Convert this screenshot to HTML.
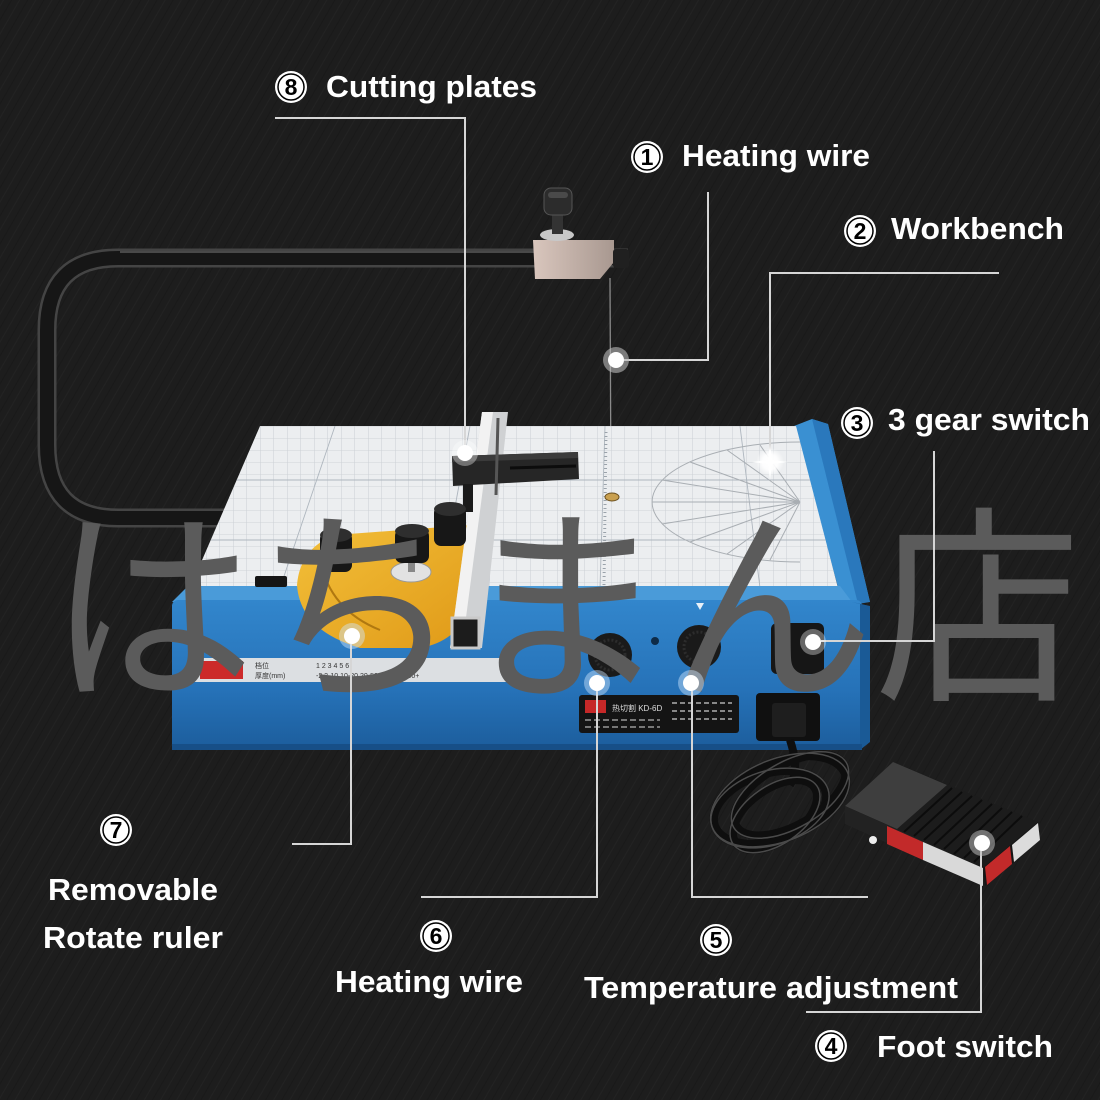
<!DOCTYPE html>
<html><head><meta charset="utf-8"><style>
html,body{margin:0;padding:0;background:#1d1d1d;}
svg{display:block;}
.lbl{font-family:"Liberation Sans",Arial,sans-serif;font-weight:bold;fill:#fff;font-size:31px;}
.num{font-family:"Liberation Sans",Arial,sans-serif;font-weight:bold;fill:#000;font-size:23px;text-anchor:middle;}
.tiny{font-family:"Liberation Sans","Noto Sans CJK SC",sans-serif;font-size:7px;fill:#333;}
.wm{font-family:"Noto Sans CJK JP","Noto Sans CJK SC",sans-serif;}
</style></head><body>
<svg width="1100" height="1100" viewBox="0 0 1100 1100" xmlns="http://www.w3.org/2000/svg">
<defs>
  <pattern id="tex" width="14" height="14" patternUnits="userSpaceOnUse" patternTransform="rotate(-60)">
    <rect width="14" height="14" fill="#1d1d1d"/>
    <line x1="0" y1="3" x2="14" y2="3" stroke="#232323" stroke-width="1"/>
    <line x1="0" y1="10" x2="14" y2="10" stroke="#191919" stroke-width="1"/>
  </pattern>
  <pattern id="grid" width="13.5" height="12" patternUnits="userSpaceOnUse" x="260" y="426">
    <rect width="13.5" height="12" fill="#eceef0"/>
    <line x1="0" y1="0" x2="0" y2="12" stroke="#c2c8ce" stroke-width="0.8"/>
    <line x1="0" y1="0" x2="13.5" y2="0" stroke="#c9ced3" stroke-width="0.8"/>
  </pattern>
  <linearGradient id="blueF" x1="0" y1="0" x2="0" y2="1">
    <stop offset="0" stop-color="#3286cc"/>
    <stop offset="0.6" stop-color="#2672b8"/>
    <stop offset="1" stop-color="#1c5d9c"/>
  </linearGradient>
  <linearGradient id="yel" x1="0" y1="0" x2="1" y2="1">
    <stop offset="0" stop-color="#f3c03a"/>
    <stop offset="1" stop-color="#e09a18"/>
  </linearGradient>
  <linearGradient id="blk" x1="0" y1="0" x2="1" y2="0">
    <stop offset="0" stop-color="#d9c6bd"/>
    <stop offset="1" stop-color="#a89890"/>
  </linearGradient>
  <radialGradient id="glow">
    <stop offset="0" stop-color="#fff" stop-opacity="1"/>
    <stop offset="0.55" stop-color="#fff" stop-opacity="0.9"/>
    <stop offset="1" stop-color="#fff" stop-opacity="0"/>
  </radialGradient>
  <clipPath id="tableClip"><polygon points="260,426 796,426 838,588 190,588"/></clipPath>
</defs>

<rect width="1100" height="1100" fill="url(#tex)"/>

<!-- bow -->
<path d="M628,258 L118,258 Q47,258 47,330 L47,445 Q47,518 118,518 L230,518" fill="none" stroke="#444" stroke-width="19"/>
<path d="M628,258 L118,258 Q47,258 47,330 L47,445 Q47,518 118,518 L230,518" fill="none" stroke="#161616" stroke-width="14"/>
<line x1="120" y1="252" x2="620" y2="252" stroke="#5a5a5a" stroke-width="1.5"/>

<!-- bracket -->
<polygon points="533,240 614,240 614,262 600,279 535,279" fill="url(#blk)"/>
<rect x="613" y="249" width="16" height="19" rx="3" fill="#202020"/>
<ellipse cx="557" cy="235" rx="17" ry="6" fill="#c8c8c8"/>
<rect x="552" y="212" width="11" height="22" fill="#333"/>
<rect x="544" y="188" width="28" height="27" rx="7" fill="#2c2c2c" stroke="#555" stroke-width="1"/>
<rect x="548" y="192" width="20" height="6" rx="3" fill="#4a4a4a"/>
<!-- heating wire -->
<line x1="610" y1="278" x2="611" y2="497" stroke="#8a8a8a" stroke-width="1.3"/>

<!-- right blue rail -->
<polygon points="794,426 812,419 828,424 870,602 842,602" fill="#3a90d2"/>
<polygon points="812,419 828,424 870,602 858,604" fill="#2a78bc"/>

<!-- table top -->
<polygon points="260,426 796,426 838,588 190,588" fill="url(#grid)"/>
<g clip-path="url(#tableClip)" stroke="#aeb6be" stroke-width="0.9">
  <line x1="335" y1="426" x2="280" y2="588"/>
  <line x1="470" y1="426" x2="440" y2="588"/>
  <line x1="605" y1="426" x2="600" y2="588"/>
  <line x1="740" y1="426" x2="760" y2="588"/>
  <line x1="190" y1="480" x2="840" y2="480"/>
  <line x1="190" y1="540" x2="840" y2="540"/>
</g>
<!-- protractor -->
<g clip-path="url(#tableClip)" fill="none" stroke="#a9aeb3" stroke-width="1">
  <path d="M800,442 A148,60 0 0 0 800,562"/>
  <path d="M800,502 L727,450 M800,502 L690,462 M800,502 L662,480 M800,502 L652,502 M800,502 L662,524 M800,502 L690,542 M800,502 L727,554 M800,502 L770,560 M800,502 L760,445"/>
</g>
<line x1="606" y1="432" x2="604" y2="585" stroke="#9aa2aa" stroke-width="3" stroke-dasharray="1 3"/>
<ellipse cx="612" cy="497" rx="7" ry="4" fill="#c9a050" stroke="#6b5020" stroke-width="1"/>

<!-- front lip & face -->
<polygon points="188,586 840,586 852,602 172,602" fill="#4a9bd9"/>
<rect x="172" y="600" width="690" height="150" rx="6" fill="url(#blueF)"/>
<polygon points="852,602 870,606 870,742 860,750 860,604" fill="#1a5a96"/>
<rect x="172" y="744" width="690" height="6" fill="#174f87"/>
<!-- left lever -->
<rect x="255" y="576" width="32" height="11" rx="2" fill="#151515"/>

<!-- label strip -->
<rect x="193" y="658" width="314" height="24" fill="#dcdfe2"/>
<rect x="200" y="661" width="43" height="18" fill="#cc2a2a"/>
<text class="tiny" x="255" y="668">档位</text>
<text class="tiny" x="255" y="678">厚度(mm)</text>
<text class="tiny" x="316" y="668">1      2      3      4      5      6</text>
<text class="tiny" x="316" y="678">-2   2-10  10-20  20-50  50-100  100+</text>

<!-- yellow rotate ruler -->
<path d="M335,535 L470,525 L470,610 Q455,642 420,648 L360,648 Q300,630 297,585 Q300,548 335,535 Z" fill="url(#yel)"/>
<path d="M320,560 Q330,610 380,630" fill="none" stroke="#b07810" stroke-width="2"/>
<ellipse cx="411" cy="572" rx="20" ry="10" fill="#e2e2e2" stroke="#999" stroke-width="1"/>
<rect x="408" y="555" width="7" height="17" fill="#888"/>

<!-- fence -->
<polygon points="482,412 508,412 482,648 450,648" fill="#cfd1d3"/>
<polygon points="482,412 493,412 462,648 450,648" fill="#f2f2f2"/>
<rect x="452" y="618" width="27" height="30" fill="#1c1c1c" stroke="#c9c9c9" stroke-width="3"/>
<!-- crossbar -->
<polygon points="452,456 578,452 579,479 453,486" fill="#262626"/>
<polygon points="452,456 578,452 578,458 452,462" fill="#3b3b3b"/>
<line x1="510" y1="468" x2="576" y2="466" stroke="#0c0c0c" stroke-width="3"/>
<line x1="498" y1="418" x2="496" y2="495" stroke="#555" stroke-width="3"/>
<rect x="463" y="484" width="10" height="28" fill="#1a1a1a"/>

<!-- knobs on table -->
<rect x="434" y="506" width="32" height="40" rx="7" fill="#171717"/>
<ellipse cx="450" cy="509" rx="16" ry="7" fill="#2e2e2e"/>
<rect x="395" y="529" width="34" height="34" rx="7" fill="#171717"/>
<ellipse cx="412" cy="531" rx="17" ry="7" fill="#2e2e2e"/>
<rect x="320" y="532" width="32" height="40" rx="7" fill="#171717"/>
<ellipse cx="336" cy="535" rx="16" ry="7" fill="#2e2e2e"/>

<!-- front controls -->
<circle cx="610" cy="655" r="22" fill="#1a1a1a"/>
<circle cx="610" cy="655" r="15" fill="none" stroke="#2c2c2c" stroke-width="3" stroke-dasharray="2 2"/>
<circle cx="699" cy="647" r="22" fill="#1a1a1a"/>
<circle cx="699" cy="647" r="15" fill="none" stroke="#2c2c2c" stroke-width="3" stroke-dasharray="2 2"/>
<circle cx="655" cy="641" r="4" fill="#0e2b47"/>
<polygon points="696,603 704,603 700,610" fill="#e8f0f8"/>
<rect x="771" y="623" width="53" height="51" rx="6" fill="#161616"/>
<rect x="756" y="693" width="64" height="48" rx="4" fill="#101010"/>
<rect x="772" y="703" width="34" height="34" rx="3" fill="#1e1e1e"/>
<!-- black info label -->
<rect x="579" y="695" width="160" height="38" rx="3" fill="#141414"/>
<rect x="585" y="700" width="21" height="13" fill="#c62828"/>
<text x="612" y="711" font-family="Liberation Sans, Noto Sans CJK SC, sans-serif" font-size="8" fill="#ddd">热切割 KD-6D</text>
<line x1="585" y1="720" x2="660" y2="720" stroke="#777" stroke-width="2" stroke-dasharray="6 3"/>
<line x1="585" y1="727" x2="660" y2="727" stroke="#777" stroke-width="2" stroke-dasharray="6 3"/>
<line x1="672" y1="703" x2="732" y2="703" stroke="#888" stroke-width="2" stroke-dasharray="5 3"/>
<line x1="672" y1="711" x2="732" y2="711" stroke="#888" stroke-width="2" stroke-dasharray="5 3"/>
<line x1="672" y1="719" x2="732" y2="719" stroke="#888" stroke-width="2" stroke-dasharray="5 3"/>

<!-- cable coils -->
<g fill="none" stroke="#0e0e0e" stroke-width="8">
  <path d="M790,740 Q800,770 790,785"/>
  <ellipse cx="780" cy="800" rx="70" ry="38" transform="rotate(-22 780 800)"/>
  <ellipse cx="770" cy="808" rx="58" ry="34" transform="rotate(-18 770 808)"/>
  <ellipse cx="790" cy="795" rx="62" ry="30" transform="rotate(-30 790 795)"/>
  <ellipse cx="775" cy="815" rx="48" ry="26" transform="rotate(-35 775 815)"/>
</g>
<g fill="none" stroke="#4a4a4a" stroke-width="1.5">
  <ellipse cx="780" cy="800" rx="73" ry="41" transform="rotate(-22 780 800)"/>
  <ellipse cx="770" cy="808" rx="61" ry="37" transform="rotate(-18 770 808)"/>
  <ellipse cx="790" cy="795" rx="65" ry="33" transform="rotate(-30 790 795)"/>
  <ellipse cx="775" cy="815" rx="51" ry="29" transform="rotate(-35 775 815)"/>
</g>

<!-- foot pedal -->
<polygon points="845,806 893,762 1038,822 983,868" fill="#1c1c1c"/>
<polygon points="845,806 893,762 947,785 897,829" fill="#3e3e3e"/>
<g stroke="#0c0c0c" stroke-width="2">
  <line x1="952" y1="788" x2="904" y2="832"/><line x1="962" y1="792" x2="914" y2="836"/>
  <line x1="972" y1="796" x2="924" y2="840"/><line x1="982" y1="800" x2="934" y2="845"/>
  <line x1="992" y1="804" x2="944" y2="849"/><line x1="1002" y1="808" x2="954" y2="854"/>
  <line x1="1012" y1="812" x2="964" y2="858"/><line x1="1022" y1="816" x2="974" y2="862"/>
</g>
<polygon points="845,806 983,868 983,886 845,824" fill="#222"/>
<polygon points="887,826 923,842 923,860 887,844" fill="#c22a2a"/>
<polygon points="923,842 983,868 983,886 923,860" fill="#d9d9d9"/>
<polygon points="983,868 1038,822 1040,840 985,886" fill="#151515"/>
<polygon points="985,867 1010,846 1012,864 987,885" fill="#c22a2a"/>
<polygon points="1012,845 1038,823 1040,840 1014,862" fill="#dcdcdc"/>
<circle cx="873" cy="840" r="4" fill="#eee"/>

<!-- watermark -->
<text class="wm" x="48" y="684" font-size="210" fill="#5b5b5b" textLength="1033" lengthAdjust="spacingAndGlyphs">はちまん店</text>

<!-- connector lines -->
<g fill="none" stroke="#d6d6d6" stroke-width="2">
  <path d="M275,118 H465 V445"/>
  <path d="M708,192 V360 H624"/>
  <path d="M999,273 H770 V455"/>
  <path d="M934,451 V641 H821"/>
  <path d="M292,844 H351 V644"/>
  <path d="M421,897 H597 V691"/>
  <path d="M868,897 H692 V691"/>
  <path d="M806,1012 H981 V851"/>
</g>

<!-- dots -->
<g>
  <circle cx="465" cy="453" r="13" fill="#fff" fill-opacity="0.35"/><circle cx="465" cy="453" r="8" fill="#fff"/>
  <circle cx="616" cy="360" r="13" fill="#bbb" fill-opacity="0.6"/><circle cx="616" cy="360" r="8" fill="#fff"/>
  <circle cx="813" cy="642" r="13" fill="#fff" fill-opacity="0.35"/><circle cx="813" cy="642" r="8" fill="#fff"/>
  <circle cx="352" cy="636" r="13" fill="#cfe6ff" fill-opacity="0.45"/><circle cx="352" cy="636" r="8" fill="#fff"/>
  <circle cx="597" cy="683" r="13" fill="#cfe6ff" fill-opacity="0.45"/><circle cx="597" cy="683" r="8" fill="#fff"/>
  <circle cx="691" cy="683" r="13" fill="#cfe6ff" fill-opacity="0.45"/><circle cx="691" cy="683" r="8" fill="#fff"/>
  <circle cx="982" cy="843" r="13" fill="#bbb" fill-opacity="0.55"/><circle cx="982" cy="843" r="8" fill="#fff"/>
  <circle cx="770" cy="462" r="14" fill="url(#glow)"/>
  <path d="M770,444 L772,460 L788,462 L772,464 L770,480 L768,464 L752,462 L768,460 Z" fill="#fff"/>
</g>

<!-- number badges -->
<g>
  <circle cx="291" cy="87" r="16" fill="#fff"/><circle cx="291" cy="87" r="13" fill="none" stroke="#000" stroke-width="1.5"/><text class="num" x="291" y="95">8</text>
  <circle cx="647" cy="157" r="16" fill="#fff"/><circle cx="647" cy="157" r="13" fill="none" stroke="#000" stroke-width="1.5"/><text class="num" x="647" y="165">1</text>
  <circle cx="860" cy="231" r="16" fill="#fff"/><circle cx="860" cy="231" r="13" fill="none" stroke="#000" stroke-width="1.5"/><text class="num" x="860" y="239">2</text>
  <circle cx="857" cy="423" r="16" fill="#fff"/><circle cx="857" cy="423" r="13" fill="none" stroke="#000" stroke-width="1.5"/><text class="num" x="857" y="431">3</text>
  <circle cx="116" cy="830" r="16" fill="#fff"/><circle cx="116" cy="830" r="13" fill="none" stroke="#000" stroke-width="1.5"/><text class="num" x="116" y="838">7</text>
  <circle cx="436" cy="936" r="16" fill="#fff"/><circle cx="436" cy="936" r="13" fill="none" stroke="#000" stroke-width="1.5"/><text class="num" x="436" y="944">6</text>
  <circle cx="716" cy="940" r="16" fill="#fff"/><circle cx="716" cy="940" r="13" fill="none" stroke="#000" stroke-width="1.5"/><text class="num" x="716" y="948">5</text>
  <circle cx="831" cy="1046" r="16" fill="#fff"/><circle cx="831" cy="1046" r="13" fill="none" stroke="#000" stroke-width="1.5"/><text class="num" x="831" y="1054">4</text>
</g>

<!-- labels -->
<text class="lbl" x="326" y="97" textLength="211" lengthAdjust="spacingAndGlyphs">Cutting plates</text>
<text class="lbl" x="682" y="166" textLength="188" lengthAdjust="spacingAndGlyphs">Heating wire</text>
<text class="lbl" x="891" y="239" textLength="173" lengthAdjust="spacingAndGlyphs">Workbench</text>
<text class="lbl" x="888" y="430" textLength="202" lengthAdjust="spacingAndGlyphs">3 gear switch</text>
<text class="lbl" x="48" y="900" textLength="170" lengthAdjust="spacingAndGlyphs">Removable</text>
<text class="lbl" x="43" y="948" textLength="180" lengthAdjust="spacingAndGlyphs">Rotate ruler</text>
<text class="lbl" x="335" y="992" textLength="188" lengthAdjust="spacingAndGlyphs">Heating wire</text>
<text class="lbl" x="584" y="998" textLength="374" lengthAdjust="spacingAndGlyphs">Temperature adjustment</text>
<text class="lbl" x="877" y="1057" textLength="176" lengthAdjust="spacingAndGlyphs">Foot switch</text>
</svg>
</body></html>
